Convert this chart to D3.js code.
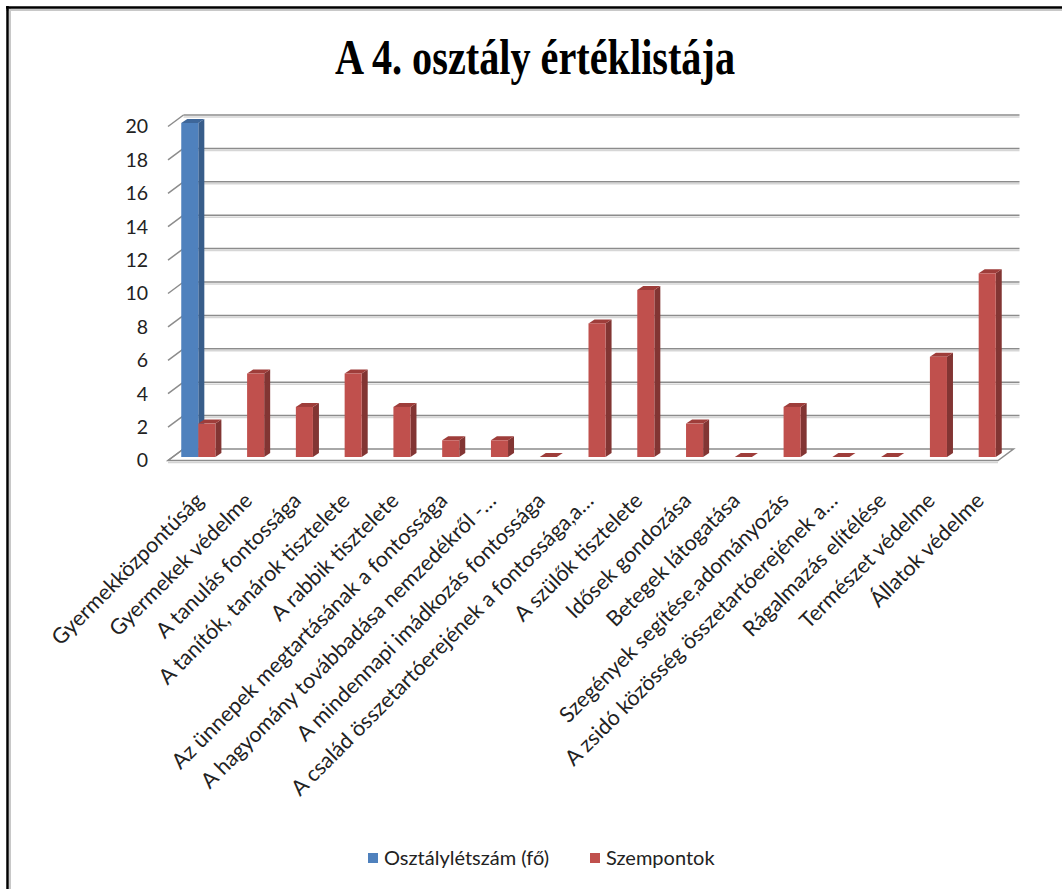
<!DOCTYPE html>
<html>
<head>
<meta charset="utf-8">
<script src="https://cdn.jsdelivr.net/npm/d3@7"></script>
<style>
  body { margin: 0; background: #fff; }
  svg { display: block; }
</style>
</head>
<body>
<svg id="chart" width="1062" height="889"></svg>
<script>
var categories = [
  "Gyermekközpontúság",
  "Gyermekek védelme",
  "A tanulás fontossága",
  "A tanítók, tanárok tisztelete",
  "A rabbik tisztelete",
  "Az ünnepek megtartásának a fontossága",
  "A hagyomány továbbadása nemzedékről -…",
  "A mindennapi imádkozás fontossága",
  "A család összetartóerejének  a fontossága,a…",
  "A szülők tisztelete",
  "Idősek gondozása",
  "Betegek látogatása",
  "Szegények segítése,adományozás",
  "A zsidó közösség összetartóerejének  a…",
  "Rágalmazás elítélése",
  "Természet védelme",
  "Állatok védelme"
];
var seriesNames = ["Osztálylétszám (fő)", "Szempontok"];
var osztalyletszam = [20, null, null, null, null, null, null, null, null, null, null, null, null, null, null, null, null];
var szempontok = [2, 5, 3, 5, 3, 1, 1, 0, 8, 10, 2, 0, 3, 0, 0, 6, 11];
var yTicks = [0, 2, 4, 6, 8, 10, 12, 14, 16, 18, 20];

var svg = d3.select("#chart"),
    font = "Lato, 'Open Sans', sans-serif";

var colors = {
  front: ["#4f81bd", "#c0504d"],
  side:  ["#385d8a", "#823533"],
  top:   ["#3d6699", "#9e3d3a"]
};

// frame (only top/left edges visible in the crop)
svg.append("line").attr("x1", 6).attr("x2", 1062).attr("y1", 10).attr("y2", 10)
  .attr("stroke", "#c8c8c8").attr("stroke-width", 2);
svg.append("line").attr("x1", 10).attr("x2", 10).attr("y1", 8).attr("y2", 889)
  .attr("stroke", "#c8c8c8").attr("stroke-width", 2);
svg.append("line").attr("x1", 6).attr("x2", 1062).attr("y1", 7.5).attr("y2", 7.5)
  .attr("stroke", "#000").attr("stroke-width", 2.5);
svg.append("line").attr("x1", 7.5).attr("x2", 7.5).attr("y1", 6).attr("y2", 889)
  .attr("stroke", "#000").attr("stroke-width", 2.5);

// title
svg.append("text")
  .attr("x", 335).attr("y", 74)
  .attr("textLength", 400).attr("lengthAdjust", "spacingAndGlyphs")
  .attr("font-family", "'Liberation Serif', 'Times New Roman', serif")
  .attr("font-weight", "bold").attr("font-size", 50)
  .attr("fill", "#000")
  .text("A 4. osztály értéklistája");

// 3d geometry
var depth = {dx: 15.5, dy: -11.5};
var barShift = {dx: 3.5, dy: -3.5};
var barDepth = {dx: 6, dy: -4};

var y = d3.scaleLinear().domain([0, 20]).range([460.5, 126.5]);

var x0 = d3.scaleBand()
    .domain(categories)
    .range([168, 1002])
    .paddingInner(0.3)
    .paddingOuter(0.2);

var x1 = d3.scaleBand()
    .domain(seriesNames)
    .range([0, x0.bandwidth()]);

var floorLeft = 168, floorRight = 998;
var g = svg.append("g");

// floor
var f0 = y(0);
g.append("path")
  .attr("d", "M" + floorLeft + "," + f0 + "L" + floorRight + "," + f0 +
    "L" + (floorRight + depth.dx) + "," + (f0 + depth.dy) +
    "L" + (floorLeft + depth.dx) + "," + (f0 + depth.dy) + "Z")
  .attr("fill", "#fff").attr("stroke", "#8c8c8c").attr("stroke-width", 1.5);
g.append("line")
  .attr("x1", floorLeft).attr("x2", floorRight)
  .attr("y1", f0 + 2).attr("y2", f0 + 2)
  .attr("stroke", "#d4d4d4").attr("stroke-width", 1.5);

// gridlines on back wall + diagonal ticks on the side wall
var grid = g.append("g").selectAll("g").data(yTicks).enter().append("g");
grid.filter(function(d) { return d > 0; }).append("line")
  .attr("x1", floorLeft + depth.dx).attr("x2", floorRight + depth.dx + 6)
  .attr("y1", function(d) { return y(d) + depth.dy + 2; })
  .attr("y2", function(d) { return y(d) + depth.dy + 2; })
  .attr("stroke", "#d6d6d6").attr("stroke-width", 1.5);
grid.filter(function(d) { return d > 0; }).append("line")
  .attr("x1", floorLeft + depth.dx).attr("x2", floorRight + depth.dx + 6)
  .attr("y1", function(d) { return y(d) + depth.dy; })
  .attr("y2", function(d) { return y(d) + depth.dy; })
  .attr("stroke", "#8c8c8c").attr("stroke-width", 1.5);
grid.append("line")
  .attr("x1", floorLeft).attr("x2", floorLeft + depth.dx)
  .attr("y1", function(d) { return y(d); })
  .attr("y2", function(d) { return y(d) + depth.dy; })
  .attr("stroke", "#8c8c8c").attr("stroke-width", 1.5);

// y tick labels
svg.append("g").selectAll("text").data(yTicks).enter().append("text")
  .attr("x", 148).attr("y", function(d) { return y(d); })
  .attr("dy", "0.35em")
  .attr("text-anchor", "end")
  .attr("font-family", font).attr("font-size", 19.5)
  .attr("fill", "#222")
  .text(function(d) { return d; });

// bars
var rows = [];
categories.forEach(function(c, i) {
  [osztalyletszam[i], szempontok[i]].forEach(function(v, s) {
    if (v != null) rows.push({cat: c, series: s, value: v});
  });
});

var bars = g.append("g").selectAll("g").data(rows).enter().append("g")
  .attr("transform", function(d) {
    return "translate(" + (x0(d.cat) + x1(seriesNames[d.series]) + barShift.dx) + "," + barShift.dy + ")";
  });

var bw = x1.bandwidth();

bars.append("path") // side face
  .attr("d", function(d) {
    var t = y(d.value), b = y(0);
    return "M" + bw + "," + b + "L" + (bw + barDepth.dx) + "," + (b + barDepth.dy) +
      "L" + (bw + barDepth.dx) + "," + (t + barDepth.dy) + "L" + bw + "," + t + "Z";
  })
  .attr("fill", function(d) { return colors.side[d.series]; });

bars.append("path") // top face
  .attr("d", function(d) {
    var t = y(d.value);
    return "M0," + t + "L" + bw + "," + t + "L" + (bw + barDepth.dx) + "," + (t + barDepth.dy) +
      "L" + barDepth.dx + "," + (t + barDepth.dy) + "Z";
  })
  .attr("fill", function(d) { return colors.top[d.series]; });

bars.filter(function(d) { return d.value > 0; }).append("rect") // front face
  .attr("x", 0).attr("width", bw)
  .attr("y", function(d) { return y(d.value); })
  .attr("height", function(d) { return y(0) - y(d.value); })
  .attr("fill", function(d) { return colors.front[d.series]; });

// category labels
svg.append("g").selectAll("text").data(categories).enter().append("text")
  .attr("transform", function(d) {
    return "translate(" + (x0(d) + x0.bandwidth() / 2 + 10) + ",502) rotate(-45)";
  })
  .attr("text-anchor", "end")
  .attr("font-family", font).attr("font-size", 21.5)
  .attr("fill", "#222")
  .text(function(d) { return d; });

// legend
var legend = svg.append("g").selectAll("g").data(seriesNames).enter().append("g")
  .attr("transform", function(d, i) { return "translate(" + (i === 0 ? 368 : 590) + ",853)"; });
legend.append("rect")
  .attr("width", 10).attr("height", 10)
  .attr("fill", function(d, i) { return colors.front[i]; });
legend.append("text")
  .attr("x", 16).attr("y", 5).attr("dy", "0.35em")
  .attr("font-family", font).attr("font-size", 20)
  .attr("fill", "#222")
  .text(function(d) { return d; });
</script>
</body>
</html>
